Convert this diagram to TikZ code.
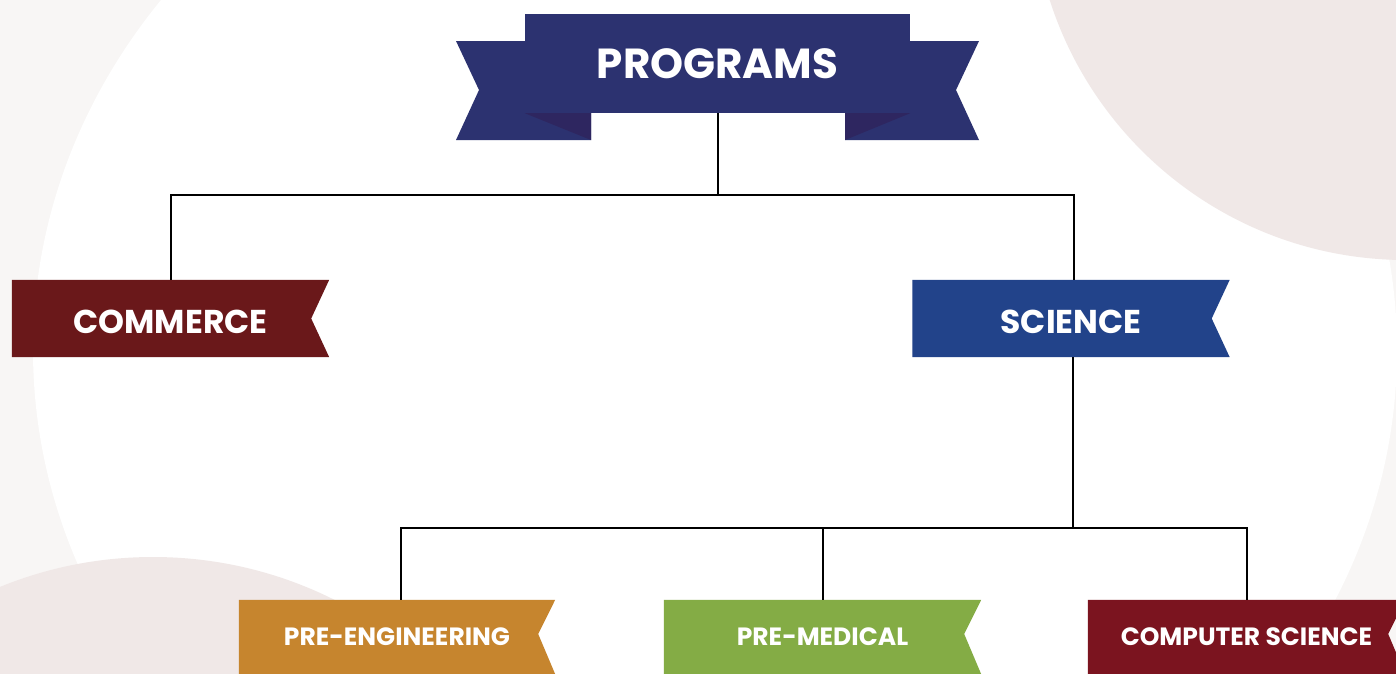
\documentclass[tikz,border=0pt]{standalone}
\usepackage{fontspec}
\setmainfont{Poppins}
\usepackage{xcolor}
\usetikzlibrary{backgrounds}

\definecolor{haze}{HTML}{F8F6F5}
\definecolor{blob}{HTML}{F0E8E7}
\definecolor{navy}{HTML}{2C3270}
\definecolor{navyfold}{HTML}{2E2660}
\definecolor{commercered}{HTML}{6A181A}
\definecolor{scienceblue}{HTML}{22438A}
\definecolor{engorange}{HTML}{C6852E}
\definecolor{medgreen}{HTML}{84AC45}
\definecolor{csred}{HTML}{7B141F}

\begin{document}
\begin{tikzpicture}[x=1pt,y=1pt,yscale=-1,
    tagtext/.style={text=white,font=\bfseries\fontsize{#1}{#1}\selectfont,inner sep=0pt},
    link/.style={draw=black,line width=2pt}]
        \useasboundingbox (0,0) rectangle (1396,673);
        \clip (0,0) rectangle (1396,673);

        % Text Node
        \node (programs) [tagtext=42, minimum width=385, minimum height=99] at (717.5,63.5) {PROGRAMS};
        % Text Node
        \node (commerce) [tagtext=33, text height=30pt, text depth=0pt, minimum width=317, minimum height=77] at (170.5,318.5) {COMMERCE};
        % Text Node
        \node (science) [tagtext=33, text height=30pt, text depth=0pt, minimum width=317, minimum height=77] at (1071,318.5) {SCIENCE};
        % Text Node
        \node (engineering) [tagtext=25, minimum width=316, minimum height=74] at (397,637) {PRE-ENGINEERING};
        % Text Node
        \node (medical) [tagtext=25, minimum width=317, minimum height=74] at (822.5,637) {PRE-MEDICAL};
        % Text Node
        \node (compsci) [tagtext=25, minimum width=317, minimum height=74] at (1246.5,637) {COMPUTER SCIENCE};

        % Connectors
        \coordinate (hub) at (717.5,195);
        \coordinate (fork) at (1073,528);
        \draw [link] (programs.south) -- (hub);
        \draw [link] (hub) -| (commerce.north);
        \draw [link] (hub) -| ([xshift=3]science.north);
        \draw [link] ([xshift=2]science.south) -- (fork);
        \draw [link] (fork) -| ([xshift=4]engineering.north);
        \draw [link] (fork) -| (medical.north);
        \draw [link] (fork) -| (compsci.north);

        \begin{scope}[on background layer]
        \clip (0,0) rectangle (1396,673);
        % Shape: backdrop
        \fill [haze] (0,0) rectangle (1396,673);
        \fill [white] (715,350) ellipse [x radius=682, y radius=600];
        \fill [blob] (1406,-114) circle [radius=374];
        \fill [blob] (153,962) circle [radius=405];

        % Shape: banner tails and folds
        \fill [navy] (456,41) -- (591,41) -- (591,140) -- (456,140) -- (479,90) -- cycle;
        \fill [navy] (979,41) -- (845,41) -- (845,140) -- (979,140) -- (956,90) -- cycle;
        \fill [navyfold] (programs.south west) -- (591,113) -- (591,140) -- cycle;
        \fill [navyfold] (programs.south east) -- (845,113) -- (845,140) -- cycle;
        % Shape: banner middle
        \fill [navy] (programs.north west) rectangle (programs.south east);

        % Shape: tags
        \fill [commercered] (commerce.north west) -- (commerce.north east) -- ([xshift=-18]commerce.east) -- (commerce.south east) -- (commerce.south west) -- cycle;
        \fill [scienceblue] (science.north west) -- (science.north east) -- ([xshift=-18]science.east) -- (science.south east) -- (science.south west) -- cycle;
        \fill [engorange] (engineering.north west) -- (engineering.north east) -- ([xshift=-17,yshift=-3]engineering.east) -- (engineering.south east) -- (engineering.south west) -- cycle;
        \fill [medgreen] (medical.north west) -- (medical.north east) -- ([xshift=-17,yshift=-3]medical.east) -- (medical.south east) -- (medical.south west) -- cycle;
        \fill [csred] (compsci.north west) -- (compsci.north east) -- ([xshift=-17,yshift=-3]compsci.east) -- (compsci.south east) -- (compsci.south west) -- cycle;
        \end{scope}

\end{tikzpicture}
\end{document}
